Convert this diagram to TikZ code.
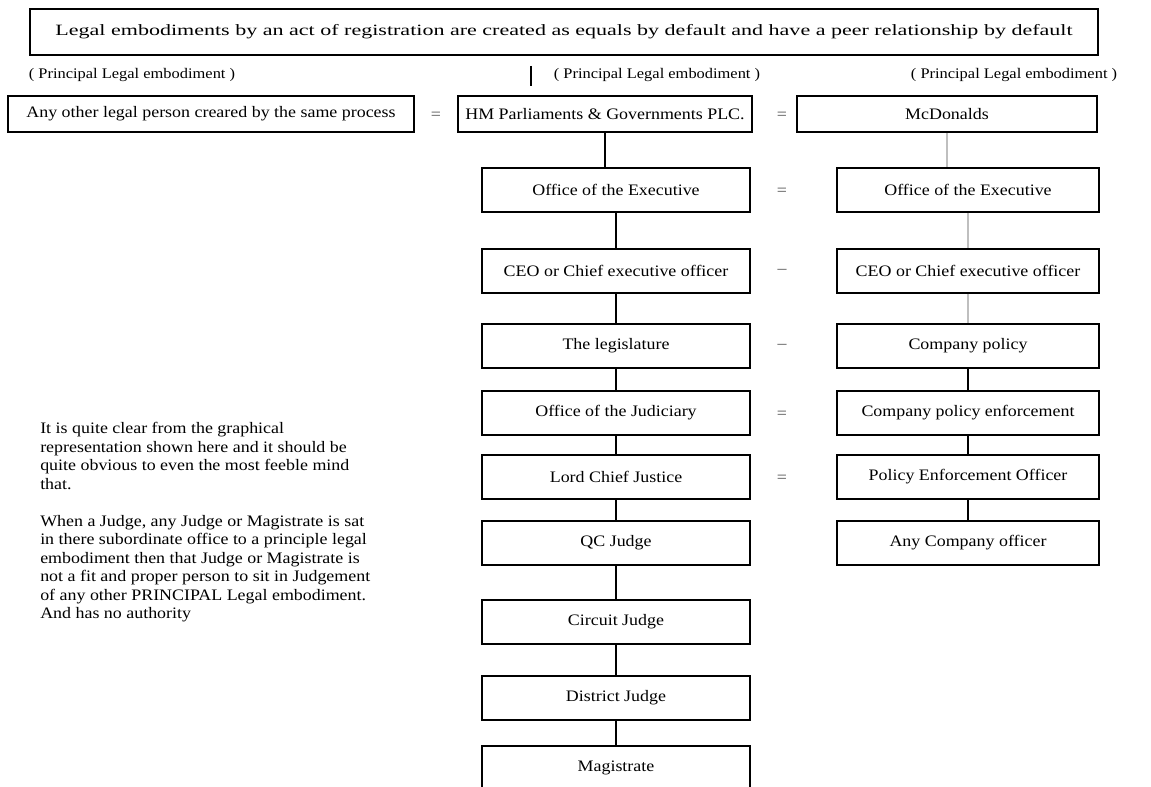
\documentclass[tikz,border=0pt]{standalone}
\usepackage{fontspec}
\setmainfont[FakeStretch=1.12]{Liberation Serif}
\newfontfamily\headfont[FakeStretch=1.4]{Liberation Serif}
\begin{document}
\begin{tikzpicture}[x=0.75pt, y=-0.75pt, font=\fontsize{12}{14}\selectfont,
        box/.style = {draw, line width=1.3pt, minimum height=33pt, inner sep=0pt},
        mid/.style = {box, minimum width=201pt},
        side/.style = {box, minimum width=197pt},
        lbl/.style = {font=\fontsize{11}{12}\selectfont, inner sep=0pt},
        eq/.style = {inner sep=0pt, text=black!70},
        link/.style = {line width=1.1pt},
        faint/.style = {line width=1.1pt, black!25}]
        \useasboundingbox (0,0) rectangle (1151,787);

        \node [box, minimum width=801pt, minimum height=34pt, font=\headfont\fontsize{11.8}{14}\selectfont] (head) at (564,32) {Legal embodiments by an act of registration are created as equals by default and have a peer relationship by default};

        \node [lbl] (lblL) at (132,75) {( Principal Legal embodiment )};
        \node [lbl] (lblM) at (657,75) {( Principal Legal embodiment )};
        \node [lbl] (lblR) at (1014,75) {( Principal Legal embodiment )};
        \draw [line width=1.1pt] (531,66) -- (531,86);

        \node [box, minimum width=304pt, minimum height=27pt] (other) at (211,114) {Any other legal person creared by the same process};
        \node [box, minimum width=220pt, minimum height=27pt] (hm) at (605,114) {HM Parliaments \& Governments PLC.};
        \node [box, minimum width=225pt, minimum height=27pt] (mcd) at (947,114) {McDonalds};
        \node [eq] (e0) at (436,116) {=};
        \node [eq] (e1) at (782,116) {=};

        \node [mid] (exec) at (616,190) {Office of the Executive};
        \node [mid] (ceo) at (616,271) {CEO or Chief executive officer};
        \node [mid] (leg) at (616,346) {The legislature};
        \node [mid] (jud) at (616,413) {Office of the Judiciary};
        \node [mid] (lcj) at (616,477) {Lord Chief Justice};
        \node [mid] (qc) at (616,543) {QC Judge};
        \node [mid] (circ) at (616,622) {Circuit Judge};
        \node [mid] (dist) at (616,698) {District Judge};
        \node [mid] (mag) at (616,768) {Magistrate};

        \node [side] (exec2) at (968,190) {Office of the Executive};
        \node [side] (ceo2) at (968,271) {CEO or Chief executive officer};
        \node [side] (pol) at (968,346) {Company policy};
        \node [side] (enf) at (968,413) {Company policy enforcement};
        \node [side] (peo) at (968,477) {Policy Enforcement Officer};
        \node [side] (any) at (968,543) {Any Company officer};

        \node [eq] (e2) at (782,192) {=};
        \node [eq] (e3) at (782,271) {--};
        \node [eq] (e4) at (782,346) {--};
        \node [eq] (e5) at (782,415) {=};
        \node [eq] (e6) at (782,479) {=};

        \draw [link] (hm) -- (hm |- exec.north);
        \draw [link] (exec) -- (ceo);
        \draw [link] (ceo) -- (leg);
        \draw [link] (leg) -- (jud);
        \draw [link] (jud) -- (lcj);
        \draw [link] (lcj) -- (qc);
        \draw [link] (qc) -- (circ);
        \draw [link] (circ) -- (dist);
        \draw [link] (dist) -- (mag);

        \draw [faint] (mcd) -- (mcd |- exec2.north);
        \draw [faint] (exec2) -- (ceo2);
        \draw [faint] (ceo2) -- (pol);
        \draw [link] (pol) -- (enf);
        \draw [link] (enf) -- (peo);
        \draw [link] (peo) -- (any);

        \node [anchor=north west, align=left, inner sep=0pt, font=\fontsize{12}{13.9}\selectfont] (note) at (40,422) {It is quite clear from the graphical\\representation shown here and it should be\\quite obvious to even the most feeble mind\\that.\\[13.9pt]When a Judge, any Judge or Magistrate is sat\\in there subordinate office to a principle legal\\embodiment then that Judge or Magistrate is\\not a fit and proper person to sit in Judgement\\of any other PRINCIPAL Legal embodiment.\\And has no authority};
\end{tikzpicture}
\end{document}
